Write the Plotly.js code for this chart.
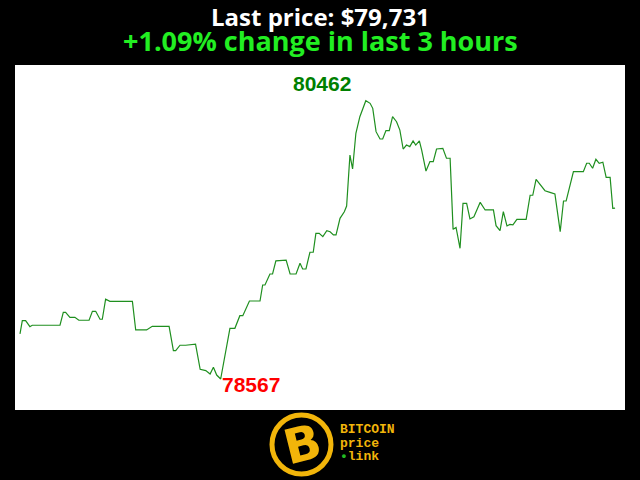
<!DOCTYPE html>
<html>
<head>
<meta charset="utf-8">
<script src="https://cdn.plot.ly/plotly-3.0.1.min.js"></script>
<style>
html,body{margin:0;padding:0;background:#000;}
#chart{width:640px;height:480px;}
</style>
</head>
<body>
<div id="chart"></div>
<script>
// minutes since start of the 3-hour window
const minutes = [0,0.7,1.7,3.0,3.7,12.1,13.1,13.8,15.1,16.6,17.8,20.9,21.9,22.9,24.2,24.9,25.9,27.2,34.0,35.0,38.3,40.0,45.1,46.4,47.1,48.4,50.1,53.1,54.5,56.2,57.5,58.5,59.5,60.7,63.5,65.0,66.5,67.4,69.4,72.6,73.4,74.1,75.6,76.4,77.4,80.5,81.7,83.5,84.7,85.5,86.5,87.7,88.7,89.5,90.5,91.6,92.8,93.8,94.8,95.6,96.8,98.1,98.8,99.8,100.6,101.6,102.8,104.6,105.9,106.7,107.7,108.9,109.7,110.7,111.7,112.7,113.9,114.9,115.9,116.9,117.9,118.9,119.7,120.8,121.5,122.8,124.0,125.0,126.0,127.9,129.0,130.1,131.0,131.9,133.1,134.0,135.1,136.1,137.3,139.2,140.7,143.2,144.0,145.2,146.2,147.3,148.2,149.1,150.3,153.1,154.3,155.1,156.1,158.8,160.3,161.8,163.4,164.4,165.2,167.4,170.4,171.4,172.2,173.2,174.2,175.2,176.3,177.3,178.5,179.3,180.0];
const prices = [78874,78964,78964,78923,78933,78933,79021,79021,78987,78987,78967,78967,79028,79028,78974,78974,79110,79096,79096,78901,78901,78926,78926,78760,78760,78797,78797,78805,78633,78624,78601,78647,78594,78567,78912,78912,78998,78998,79098,79098,79207,79207,79282,79282,79371,79377,79282,79282,79355,79316,79316,79430,79430,79559,79559,79536,79577,79570,79548,79548,79661,79706,79745,80092,79997,80240,80353,80462,80444,80410,80251,80201,80201,80258,80258,80353,80319,80262,80133,80160,80149,80188,80160,80188,80126,79983,80047,80047,80133,80138,80070,80070,79586,79599,79457,79763,79763,79657,79672,79770,79718,79718,79611,79577,79706,79609,79620,79616,79654,79654,79818,79818,79927,79849,79838,79827,79570,79779,79779,79979,79979,80036,80036,80002,80063,80036,80043,79940,79940,79729,79731];

const last = prices[prices.length-1];
const first = prices[0];
const pct = (last-first)/first*100;
const maxP = Math.max(...prices), minP = Math.min(...prices);
const tMax = minutes[prices.indexOf(maxP)], tMin = minutes[prices.indexOf(minP)];

const trace = {
  x: minutes, y: prices, type: 'scatter', mode: 'lines',
  line: {color: '#1f8f1f', width: 1.2}, hoverinfo: 'skip'
};

const gold = '#f2b50a';
const layout = {
  width: 640, height: 480,
  paper_bgcolor: '#000000', plot_bgcolor: '#ffffff',
  margin: {l: 15, r: 15, t: 65, b: 70},
  showlegend: false,
  xaxis: {range: [-1.51, 183.0], visible: false, showgrid: false, zeroline: false, fixedrange: true},
  yaxis: {range: [78356, 80705], visible: false, showgrid: false, zeroline: false, fixedrange: true},
  shapes: [
    {type: 'circle', xref: 'paper', yref: 'paper',
     x0: 0.4213, x1: 0.5180, y0: -0.1855, y1: -0.0145,
     line: {color: gold, width: 5}, fillcolor: '#000000'}
  ],
  annotations: [
    {xref: 'paper', yref: 'paper', x: 0.5, y: 1.142, xanchor: 'center', yanchor: 'middle',
     text: '<b>Last price: $' + last.toLocaleString('en-US') + '</b>', showarrow: false,
     font: {family: 'Open Sans', size: 24, color: '#ffffff'}},
    {xref: 'paper', yref: 'paper', x: 0.5, y: 1.0696, xanchor: 'center', yanchor: 'middle',
     text: '<b>' + (pct >= 0 ? '+' : '') + pct.toFixed(2) + '% change in last 3 hours</b>', showarrow: false,
     font: {family: 'Open Sans', size: 27, color: '#22ee22'}},
    {x: tMax, y: maxP, xref: 'x', yref: 'y', text: '<b>' + maxP + '</b>', showarrow: false,
     xanchor: 'center', yanchor: 'middle', xshift: -44, yshift: 17,
     font: {family: 'Liberation Sans', size: 21, color: '#008000'}},
    {x: tMin, y: minP, xref: 'x', yref: 'y', text: '<b>' + minP + '</b>', showarrow: false,
     xanchor: 'left', yanchor: 'middle', xshift: -1, yshift: -5,
     font: {family: 'Liberation Sans', size: 21, color: '#ff0000'}},
    {xref: 'paper', yref: 'paper', x: 0.4705, y: -0.0986, xanchor: 'center', yanchor: 'middle',
     text: '<b>B</b>', showarrow: false, textangle: -14,
     font: {family: 'DejaVu Sans', size: 48, color: gold}},
    {xref: 'paper', yref: 'paper', x: 0.5295, y: -0.0551, xanchor: 'left', yanchor: 'middle',
     text: '<b>BITCOIN</b>', showarrow: false,
     font: {family: 'Liberation Mono', size: 13, color: gold}},
    {xref: 'paper', yref: 'paper', x: 0.5295, y: -0.0957, xanchor: 'left', yanchor: 'middle',
     text: '<b>price</b>', showarrow: false,
     font: {family: 'Liberation Mono', size: 13, color: gold}},
    {xref: 'paper', yref: 'paper', x: 0.5295, y: -0.1362, xanchor: 'left', yanchor: 'middle',
     text: '<b><span style="color:#22bb22">•</span>link</b>', showarrow: false,
     font: {family: 'Liberation Mono', size: 13, color: gold}}
  ]
};

Plotly.newPlot('chart', [trace], layout, {displayModeBar: false, staticPlot: true});
</script>
</body>
</html>
